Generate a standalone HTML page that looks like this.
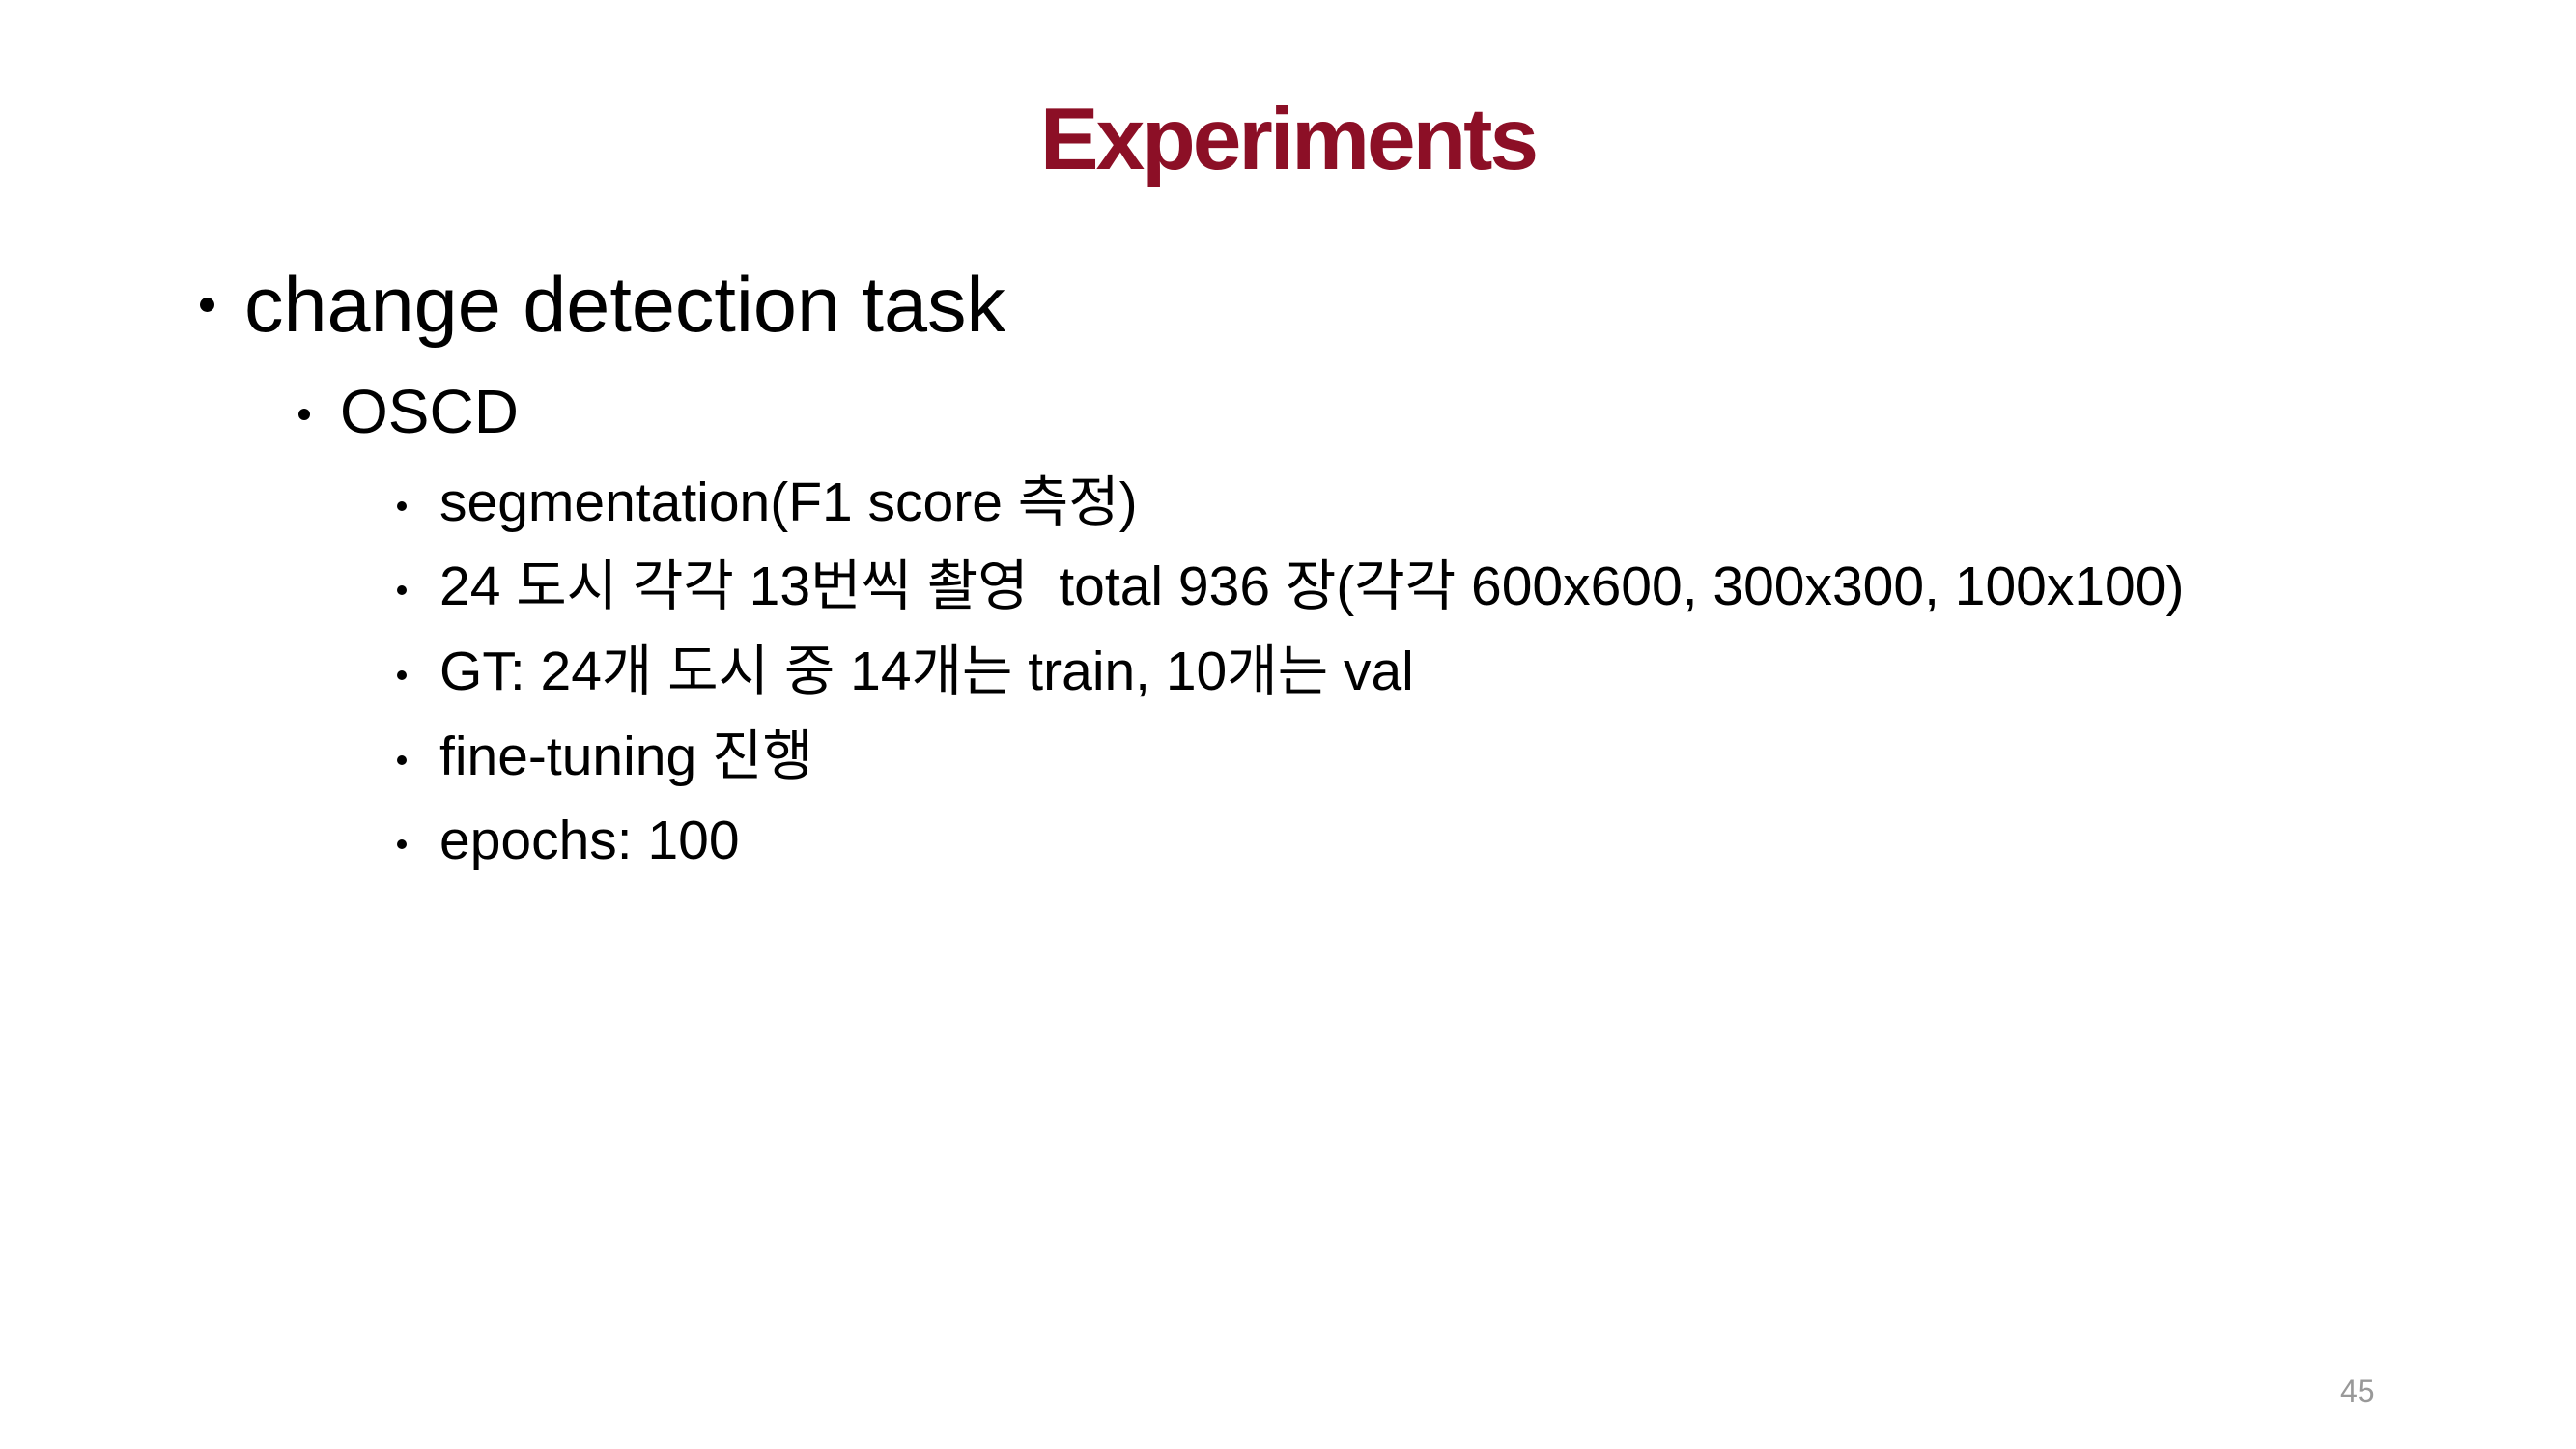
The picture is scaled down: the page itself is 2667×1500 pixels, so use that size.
<!DOCTYPE html>
<html><head><meta charset="utf-8">
<style>
html,body{margin:0;padding:0;background:#fff;}
body{width:2667px;height:1500px;position:relative;overflow:hidden;font-family:"Liberation Sans","Noto Sans CJK KR",sans-serif;color:#000;}
.t{position:absolute;white-space:pre;line-height:1;}
.title{left:0;width:2667px;text-align:center;top:99px;font-size:91px;font-weight:bold;color:#8c0f26;letter-spacing:-3px;}
.l1{font-size:81px;left:253px;top:276px;}
.l2{font-size:64px;left:352px;top:394px;}
.l3{font-size:57px;left:455px;}
.b{position:absolute;border-radius:50%;background:#000;}
.pn{font-size:32px;color:#999;left:2423px;top:1424px;}
</style></head><body>
<div class="t title">Experiments</div>

<div class="b" style="left:207px;top:308px;width:15px;height:15px"></div>
<div class="t l1">change detection task</div>

<div class="b" style="left:309px;top:423px;width:12px;height:12px"></div>
<div class="t l2">OSCD</div>

<div class="b" style="left:411px;top:519px;width:10px;height:10px"></div>
<div class="t l3" style="top:492px">segmentation(F1 score 측정)</div>
<div class="b" style="left:411px;top:606px;width:10px;height:10px"></div>
<div class="t l3" style="top:579px">24 도시 각각 13번씩 촬영  total 936 장(각각 600x600, 300x300, 100x100)</div>
<div class="b" style="left:411px;top:694px;width:10px;height:10px"></div>
<div class="t l3" style="top:667px">GT: 24개 도시 중 14개는 train, 10개는 val</div>
<div class="b" style="left:411px;top:782px;width:10px;height:10px"></div>
<div class="t l3" style="top:755px">fine-tuning 진행</div>
<div class="b" style="left:411px;top:869px;width:10px;height:10px"></div>
<div class="t l3" style="top:842px">epochs: 100</div>

<div class="t pn">45</div>
</body></html>
